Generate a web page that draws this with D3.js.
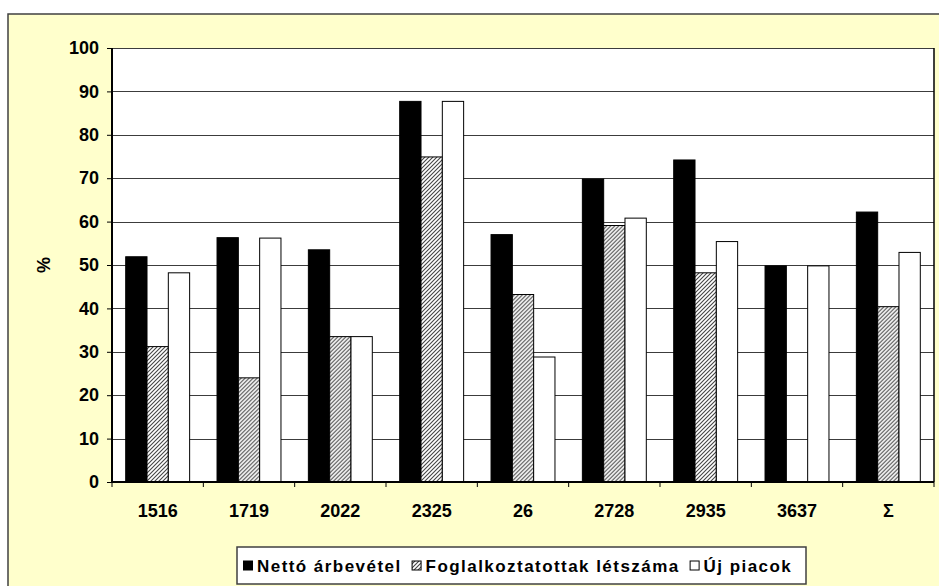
<!DOCTYPE html>
<html>
<head>
<meta charset="utf-8">
<script src="https://cdn.jsdelivr.net/npm/d3@7"></script>
<style>
  html, body { margin: 0; padding: 0; background: #ffffff; }
  svg { display: block; font-family: "Liberation Sans", Arial, sans-serif; }
</style>
</head>
<body>
<svg id="chart" width="939" height="586"></svg>
<script>
// ---- data ----
const categories = ["1516", "1719", "2022", "2325", "26", "2728", "2935", "3637", "\u03A3"];
const seriesNames = ["Nettó árbevétel", "Foglalkoztatottak létszáma", "Új piacok"];
const netto = [51.9, 56.3, 53.5, 87.7, 57.0, 69.8, 74.2, 49.8, 62.2];
const foglalkoztatottak = [31.2, 24.0, 33.5, 74.9, 43.2, 59.1, 48.2, 0, 40.4];
const ujPiacok = [48.2, 56.2, 33.5, 87.7, 28.8, 60.8, 55.4, 49.8, 52.9];
const yTicks = [0, 10, 20, 30, 40, 50, 60, 70, 80, 90, 100];
const yLabel = "%";

const seriesValues = [netto, foglalkoztatottak, ujPiacok];
const fills = ["#000000", "url(#hatch)", "#ffffff"];

const svg = d3.select("#chart");

// pattern
const defs = svg.append("defs");
const pat = defs.append("pattern")
  .attr("id", "hatch").attr("patternUnits", "userSpaceOnUse")
  .attr("width", 4).attr("height", 4);
pat.append("rect").attr("width", 4).attr("height", 4).attr("fill", "#ffffff");
pat.append("path")
  .attr("d", "M-1,1 l2,-2 M0,4 l4,-4 M3,5 l2,-2")
  .attr("stroke", "#444444").attr("stroke-width", 1.1);

// outer chart area
svg.append("rect")
  .attr("x", 8).attr("y", 14).attr("width", 960).attr("height", 600)
  .attr("fill", "#FFFFCC").attr("stroke", "#404040").attr("stroke-width", 1.5);

const plot = { left: 112, top: 48, right: 934, bottom: 482 };

const x = d3.scaleBand().domain(categories).range([plot.left, plot.right]).paddingInner(0).paddingOuter(0);
const bw = x.bandwidth();
const x1 = d3.scaleBand().domain(d3.range(3)).range([bw * 0.15, bw * 0.85]).padding(0);
const y = d3.scaleLinear().domain([0, 100]).range([plot.bottom, plot.top]);

// plot area
svg.append("rect")
  .attr("x", plot.left).attr("y", plot.top)
  .attr("width", plot.right - plot.left).attr("height", plot.bottom - plot.top)
  .attr("fill", "#ffffff");

// gridlines
svg.append("g").selectAll("line").data(yTicks.filter(d => d > 0)).join("line")
  .attr("x1", plot.left).attr("x2", plot.right)
  .attr("y1", d => Math.round(y(d)) + 0.5).attr("y2", d => Math.round(y(d)) + 0.5)
  .attr("stroke", "#3c3c3c").attr("stroke-width", 1);

// right border
svg.append("line")
  .attr("x1", plot.right).attr("x2", plot.right)
  .attr("y1", plot.top).attr("y2", plot.bottom)
  .attr("stroke", "#000").attr("stroke-width", 1.5);

// bars
const groups = svg.append("g").selectAll("g").data(categories).join("g")
  .attr("transform", d => `translate(${x(d)},0)`);
groups.selectAll("rect")
  .data((d, i) => seriesValues.map((vals, s) => ({ s, v: vals[i] })))
  .join("rect")
  .filter(d => d.v > 0)
  .attr("x", d => x1(d.s))
  .attr("width", x1.bandwidth())
  .attr("y", d => y(d.v))
  .attr("height", d => y(0) - y(d.v))
  .attr("fill", d => fills[d.s])
  .attr("stroke", "#000").attr("stroke-width", 1);

// y axis
const yAxis = d3.axisLeft(y).tickValues(yTicks).tickSize(5).tickPadding(8);
const gy = svg.append("g").attr("transform", `translate(${plot.left},0)`).call(yAxis);
gy.select(".domain").attr("stroke", "#000").attr("stroke-width", 2).attr("d", `M0,${plot.top}V${plot.bottom}`);
gy.selectAll(".tick line").attr("stroke", "#000");
gy.selectAll(".tick text")
  .attr("font-size", 18).attr("font-weight", "bold").attr("fill", "#000")
  .attr("font-family", "Liberation Sans, Arial, sans-serif");

// x axis
const xAxis = d3.axisBottom(x).tickSize(0).tickPadding(22);
const gx = svg.append("g").attr("transform", `translate(0,${plot.bottom})`).call(xAxis);
gx.select(".domain").attr("stroke", "#000").attr("stroke-width", 2).attr("d", `M${plot.left},0H${plot.right}`);
gx.selectAll(".tick text")
  .attr("font-size", 18).attr("font-weight", "bold").attr("fill", "#000")
  .attr("font-family", "Liberation Sans, Arial, sans-serif");
// category boundary ticks
gx.append("g").selectAll("line").data(categories.concat([null])).join("line")
  .attr("x1", (d, i) => plot.left + i * bw).attr("x2", (d, i) => plot.left + i * bw)
  .attr("y1", 0).attr("y2", 5).attr("stroke", "#000").attr("stroke-width", 1);

// y label
svg.append("text")
  .attr("transform", `translate(50,${(plot.top + plot.bottom) / 2}) rotate(-90)`)
  .attr("text-anchor", "middle")
  .attr("font-size", 18).attr("font-weight", "bold")
  .text(yLabel);

// legend
const legBox = { x: 237, y: 547, w: 569, h: 37 };
svg.append("rect")
  .attr("x", legBox.x).attr("y", legBox.y).attr("width", legBox.w).attr("height", legBox.h)
  .attr("fill", "#ffffff").attr("stroke", "#404040").attr("stroke-width", 1.5);
const leg = svg.append("g");
let cx = legBox.x + 6;
const cy = legBox.y + legBox.h / 2;
seriesNames.forEach((name, s) => {
  leg.append("rect")
    .attr("x", cx + 0.5).attr("y", cy - 4.5).attr("width", 9).attr("height", 9)
    .attr("fill", fills[s]).attr("stroke", "#000").attr("stroke-width", 1);
  cx += 14;
  const t = leg.append("text")
    .attr("x", cx).attr("y", cy + 6)
    .attr("font-size", 17).attr("font-weight", "bold")
    .attr("letter-spacing", 1.45)
    .text(name);
  cx += t.node().getComputedTextLength() + 10;
});
</script>
</body>
</html>
